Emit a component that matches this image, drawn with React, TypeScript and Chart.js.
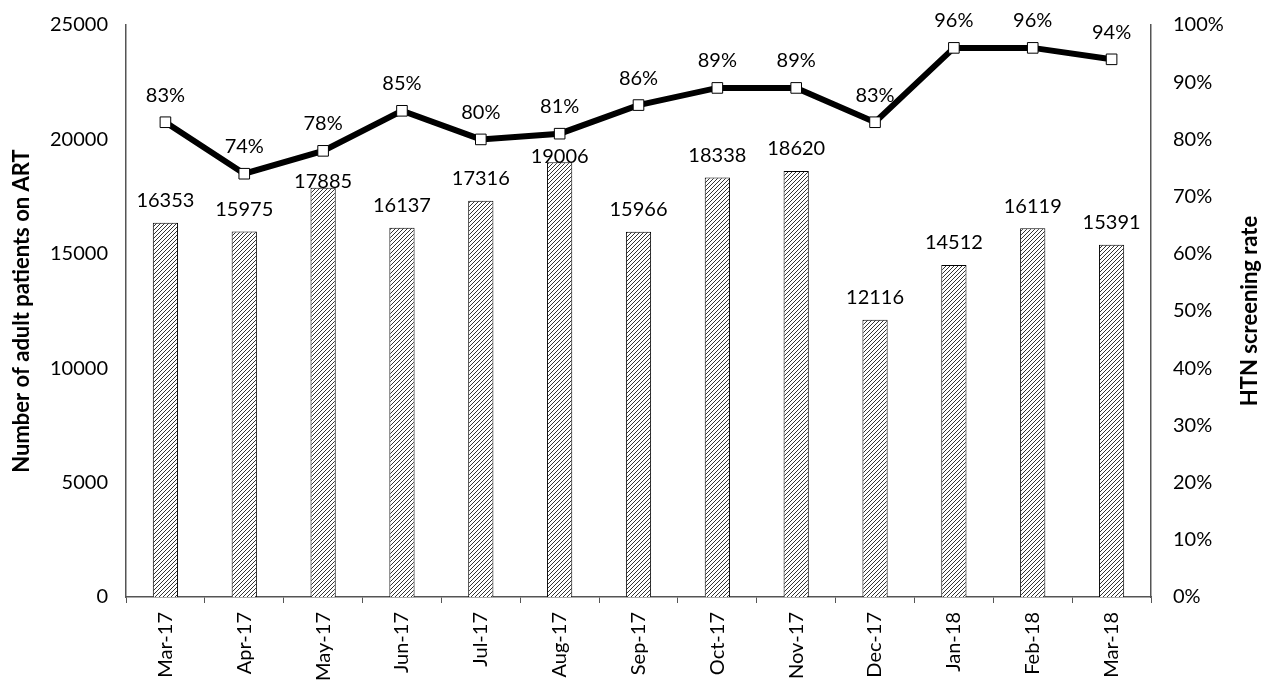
import React, { useEffect, useRef } from "react";
import { Chart, registerables } from "chart.js";

Chart.register(...registerables);

const categories = ["Mar-17", "Apr-17", "May-17", "Jun-17", "Jul-17", "Aug-17", "Sep-17", "Oct-17", "Nov-17", "Dec-17", "Jan-18", "Feb-18", "Mar-18"];
const patients = [16353, 15975, 17885, 16137, 17316, 19006, 15966, 18338, 18620, 12116, 14512, 16119, 15391];
const screeningRate = [83, 74, 78, 85, 80, 81, 86, 89, 89, 83, 96, 96, 94];
const leftTicks = [0, 5000, 10000, 15000, 20000, 25000];
const rightTicks = [0, 10, 20, 30, 40, 50, 60, 70, 80, 90, 100];

const FONT = "Lato, 'Open Sans', sans-serif";

function makeHatch(): CanvasPattern | string {
  const c = document.createElement("canvas");
  const s = 4;
  c.width = s;
  c.height = s;
  const g = c.getContext("2d");
  if (!g) return "#888";
  g.fillStyle = "#ffffff";
  g.fillRect(0, 0, s, s);
  g.strokeStyle = "#333";
  g.lineWidth = 1;
  g.beginPath();
  g.moveTo(-1, s + 1);
  g.lineTo(s + 1, -1);
  g.moveTo(-1, 1);
  g.lineTo(1, -1);
  g.moveTo(s - 1, s + 1);
  g.lineTo(s + 1, s - 1);
  g.stroke();
  const p = g.createPattern(c, "repeat");
  return p || "#888";
}

const labelsPlugin = {
  id: "customLabels",
  afterDatasetsDraw(chart: any) {
    const ctx = chart.ctx;
    const barMeta = chart.getDatasetMeta(0);
    const lineMeta = chart.getDatasetMeta(1);
    ctx.save();
    ctx.fillStyle = "#000";
    ctx.font = `20px ${FONT}`;
    ctx.textAlign = "center";
    ctx.textBaseline = "middle";
    barMeta.data.forEach((bar: any, i: number) => {
      const pt = lineMeta.data[i];
      let y = bar.y - 22;
      if (pt && Math.abs(y - pt.y) < 20) y = bar.y - 6;
      ctx.fillText(String(patients[i]), bar.x, y);
    });
    lineMeta.data.forEach((pt: any, i: number) => {
      ctx.fillText(screeningRate[i] + "%", pt.x, pt.y - 27);
    });
    ctx.restore();
  },
  afterDraw(chart: any) {
    const ctx = chart.ctx;
    const area = chart.chartArea;
    const cy = (area.top + area.bottom) / 2;
    const draw = (text: string, x: number) => {
      ctx.save();
      ctx.fillStyle = "#000";
      ctx.font = `bold 22px ${FONT}`;
      ctx.textAlign = "center";
      ctx.textBaseline = "middle";
      ctx.translate(x, cy);
      ctx.rotate(-Math.PI / 2);
      ctx.fillText(text, 0, 0);
      ctx.restore();
    };
    draw("Number of adult patients on ART", 22);
    draw("HTN screening rate", 1250);
  },
};

export default function App() {
  const ref = useRef<HTMLCanvasElement | null>(null);
  useEffect(() => {
    document.body.style.margin = "0";
    const canvas = ref.current;
    if (!canvas) return;
    const hatch = makeHatch();
    const chart = new Chart(canvas, {
      type: "bar",
      data: {
        labels: categories,
        datasets: [
          {
            type: "bar",
            data: patients,
            backgroundColor: hatch as any,
            borderColor: "#000",
            borderWidth: 1,
            barPercentage: 0.32,
            categoryPercentage: 1,
            yAxisID: "y",
            order: 2,
          },
          {
            type: "line",
            data: screeningRate,
            borderColor: "#000",
            borderWidth: 6,
            pointStyle: "rect",
            pointRadius: 7.5,
            pointBackgroundColor: "#fff",
            pointBorderColor: "#000",
            pointBorderWidth: 1,
            tension: 0,
            yAxisID: "y1",
            order: 1,
          } as any,
        ],
      },
      options: {
        responsive: false,
        animation: false,
        devicePixelRatio: 1,
        layout: { padding: { top: 25, left: 0, right: 0, bottom: 0 } },
        plugins: { legend: { display: false }, tooltip: { enabled: false } },
        scales: {
          x: {
            offset: true,
            grid: {
              offset: true,
              drawOnChartArea: false,
              drawTicks: true,
              tickLength: 6,
              color: "#555",
            },
            border: { display: true, color: "#555", width: 1.5 },
            ticks: {
              minRotation: 90,
              maxRotation: 90,
              padding: 9,
              color: "#000",
              font: { family: FONT, size: 20 },
            },
            afterFit(scale: any) {
              scale.height = 89;
            },
          },
          y: {
            position: "left",
            min: 0,
            max: 25000,
            afterBuildTicks(scale: any) {
              scale.ticks = leftTicks.map((v) => ({ value: v }));
            },
            grid: { display: false, drawTicks: false },
            border: { display: true, color: "#555", width: 1.5 },
            ticks: {
              padding: 18,
              color: "#000",
              font: { family: FONT, size: 20 },
              callback: (v: any) => String(v),
            },
            afterFit(scale: any) {
              scale.width = 126;
              scale.paddingTop = 0;
              scale.paddingBottom = 0;
            },
          },
          y1: {
            position: "right",
            min: 0,
            max: 100,
            afterBuildTicks(scale: any) {
              scale.ticks = rightTicks.map((v) => ({ value: v }));
            },
            grid: { display: false, drawTicks: false },
            border: { display: true, color: "#555", width: 1.5 },
            ticks: {
              padding: 22,
              color: "#000",
              font: { family: FONT, size: 20 },
              callback: (v: any) => v + "%",
            },
            afterFit(scale: any) {
              scale.width = 121;
              scale.paddingTop = 0;
              scale.paddingBottom = 0;
            },
          },
        },
      },
      plugins: [labelsPlugin],
    });
    return () => chart.destroy();
  }, []);
  return <canvas ref={ref} width={1272} height={686} style={{ display: "block" }} />;
}
